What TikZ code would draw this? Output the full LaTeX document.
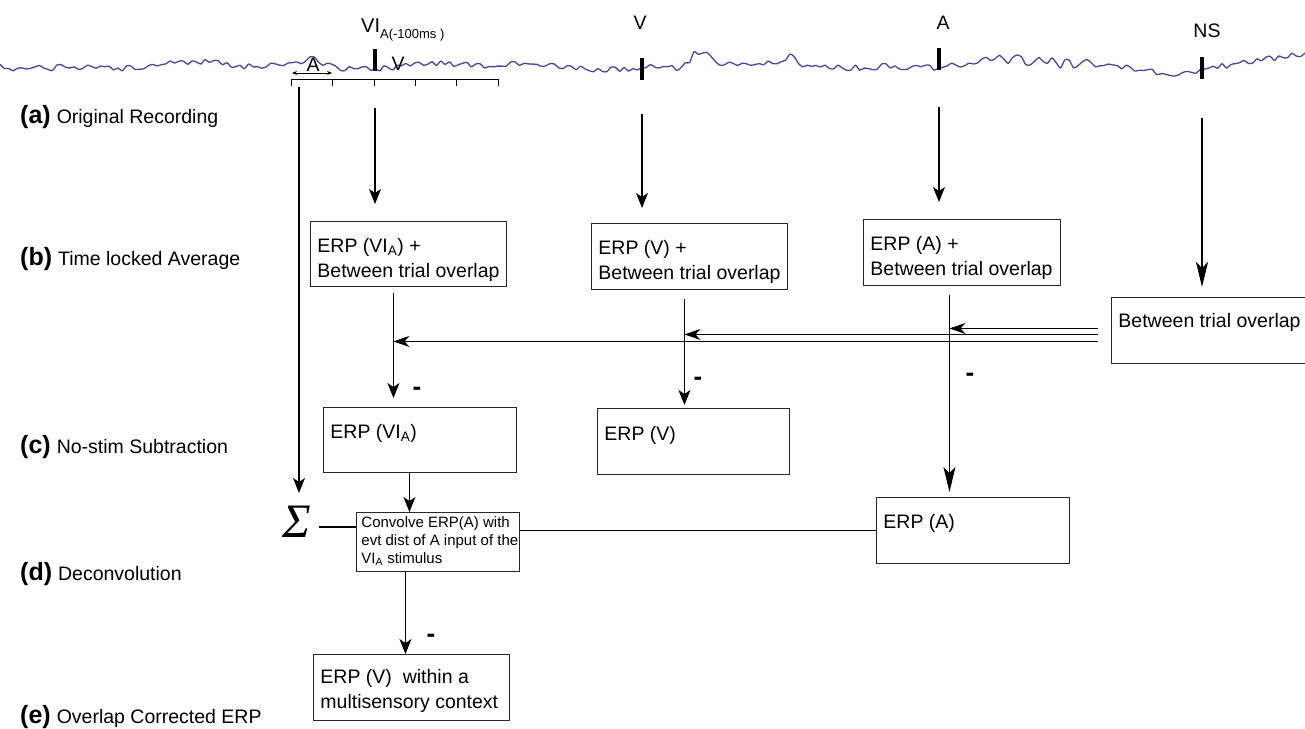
\documentclass[tikz,border=0pt]{standalone}
\usepackage{fontspec}
\setmainfont{Liberation Sans}
\newfontfamily\sigmafont{Liberation Serif}
\usetikzlibrary{arrows.meta}
\definecolor{eegcol}{RGB}{72,72,160}
\definecolor{boxcol}{RGB}{40,40,40}
% box text: width, height, first-baseline depth, left pad, content
\newcommand\bxt[5]{\parbox[c][#2][t]{#1}{\leftskip=#4\relax\rule{0pt}{#3}#5}}
\begin{document}
\begin{tikzpicture}[x=1pt,y=-1pt,
  box/.style={draw=boxcol, line width=0.9pt, inner sep=0pt, anchor=north west,
    font=\fontsize{19.5}{25}\selectfont},
  smallbox/.style={box, font=\fontsize{15}{18}\selectfont},
  conn/.style={line width=1.2pt, draw=black},
  arr/.style={conn, -{Stealth[length=15pt,width=12pt,inset=4pt]}},
  longarr/.style={conn, -{Stealth[length=25pt,width=12pt,inset=6pt]}},
  harr/.style={conn, -{Stealth[length=16pt,width=11pt,inset=5pt]}},
  rowlbl/.style={anchor=base west, inner sep=0pt, font=\fontsize{19.5}{23}\selectfont},
  toplbl/.style={anchor=base, inner sep=0pt, font=\fontsize{19.5}{23}\selectfont},
  tickmark/.style={fill=black, inner sep=0pt, minimum width=3.6pt, minimum height=22pt},
  minus/.style={inner sep=0pt, font=\bfseries\fontsize{26}{28}\selectfont},
  eeg/.style={draw=eegcol, line width=1.3pt, line join=round},
  ruler/.style={line width=1pt, draw=black}]
\fill[white] (0,0) rectangle (1305,728);
\useasboundingbox (0,0) rectangle (1305,728);

% EEG trace
\pgfmathsetseed{4711}
\draw[eeg] plot[smooth, tension=0.45, domain=0:1305, samples=300, variable=\t]
  (\t, {66 + 2.5*sin(\t*1.3) + 1.5*sin(\t*3.1+40)
        - 7*max(0,1-abs(\t-312)/30)
        - 18*max(0,1-abs(\t-700)/18)
        - 10*max(0,1-abs(\t-792)/10)
        - 4*max(0,1-abs(\t-1000)/120)
        + 5*max(0,1-abs(\t-1165)/55)
        - 12*max(0,(\t-1235)/70)
        + rand*(3.0 + 4*max(0,1-abs(\t-1050)/80) + 3*max(0,1-abs(\t-690)/40))});

% stimulus ticks and labels
\node[tickmark] (tVA) at (375,60) {};
\node[tickmark] (tV)  at (642,69) {};
\node[tickmark] (tA)  at (939,59) {};
\node[tickmark] (tNS) at (1202,68) {};
\node[anchor=base west, inner sep=0pt, font=\fontsize{20}{23}\selectfont] (lVA) at (361,32)
  {VI\raisebox{-6pt}{\fontsize{13}{14}\selectfont A(-100ms )}};
\node[toplbl] (lV)  at (640,29) {V};
\node[toplbl] (lA)  at (943,29) {A};
\node[toplbl] (lNS) at (1207,37) {NS};

% ruler under the first event
\draw[ruler] (291,86) -- (291,79) -- (498,79) -- (498,86);
\foreach \xx in {332,374,415,456} \draw[ruler] (\xx,79) -- (\xx,86);
\draw[line width=0.8pt, {Stealth[length=5pt,width=4pt]}-{Stealth[length=5pt,width=4pt]}] (292,73) -- (332,73);
\node[toplbl] (lAsmall) at (313,71) {A};
\node[toplbl] (lVsmall) at (398,70) {V};

% left-side row labels
\node[rowlbl] (ra) at (20,123) {{\bfseries\fontsize{25}{26}\selectfont (a)}\hspace{6pt}Original Recording};
\node[rowlbl] (rb) at (20,265) {{\bfseries\fontsize{25}{26}\selectfont (b)}\hspace{6pt}Time locked Average};
\node[rowlbl] (rc) at (20,453) {{\bfseries\fontsize{25}{26}\selectfont (c)}\hspace{6pt}No-stim Subtraction};
\node[rowlbl] (rd) at (20,580) {{\bfseries\fontsize{25}{26}\selectfont (d)}\hspace{6pt}Deconvolution};
\node[rowlbl] (re) at (20,723) {{\bfseries\fontsize{25}{26}\selectfont (e)}\hspace{6pt}Overlap Corrected ERP};

% boxes
\node[box] (b1) at (310,221) {\bxt{196pt}{65pt}{31pt}{7pt}{\mbox{ERP (VI\textsubscript{A}) +}\\\mbox{Between trial overlap}}};
\node[box] (b2) at (591,223) {\bxt{196pt}{66pt}{31pt}{7pt}{\mbox{ERP (V) +}\\\mbox{Between trial overlap}}};
\node[box] (b3) at (863,219) {\bxt{197pt}{66pt}{31pt}{7pt}{\mbox{ERP (A) +}\\\mbox{Between trial overlap}}};
\node[box] (b4) at (1111,297) {\bxt{205pt}{66pt}{30pt}{7pt}{\mbox{Between trial overlap}}};
\node[box] (c1) at (323,407) {\bxt{193pt}{65pt}{31pt}{7pt}{\mbox{ERP (VI\textsubscript{A})}}};
\node[box] (c2) at (597,408) {\bxt{192pt}{66pt}{32pt}{7pt}{\mbox{ERP (V)}}};
\node[box] (d2) at (876,497) {\bxt{193pt}{66pt}{31pt}{7pt}{\mbox{ERP (A)}}};
\node[smallbox] (d1) at (356,512) {\bxt{163pt}{59pt}{15pt}{5pt}{\mbox{Convolve ERP(A) with}\\\mbox{evt dist of A input of the}\\\mbox{VI\textsubscript{A} stimulus}}};
\node[box] (e1) at (313,654) {\bxt{196pt}{66pt}{29pt}{7pt}{\mbox{ERP (V)\ \ within a}\\\mbox{multisensory context}}};

% sigma
\node[inner sep=0pt, font=\sigmafont\itshape\fontsize{48}{50}\selectfont] (sig) at (297,522) {Σ};

% arrows from the recording
\draw[arr, shorten <=37pt, shorten >=17pt] (tVA) -- (tVA |- b1.north);
\draw[arr, shorten <=34pt, shorten >=15pt] (tV) -- (tV |- b2.north);
\draw[arr, shorten <=37pt, shorten >=17pt] (tA) -- (tA |- b3.north);
\draw[longarr, shorten <=39pt, shorten >=10pt] (tNS) -- (tNS |- b4.north);
\coordinate (lstart) at (299,87);
\coordinate (lend) at (299,493);
\draw[arr] (lstart) -- (lend);

% vertical subtraction lines
\coordinate (v1) at ([xshift=-15pt]b1.south);
\coordinate (v2) at ([xshift=-5pt]b2.south);
\coordinate (v3) at ([xshift=-12.5pt]b3.south);
\draw[arr, shorten <=6pt, shorten >=9pt] (v1) -- (v1 |- c1.north);
\draw[arr, shorten <=9pt, shorten >=3pt] (v2) -- (v2 |- c2.north);
\draw[longarr, shorten <=9pt, shorten >=5pt] (v3) -- (v3 |- d2.north);

% triple line from the no-stim box
\coordinate (h1) at ([yshift=2pt]b4.west);
\coordinate (h2) at ([yshift=-4pt]b4.west);
\coordinate (h3) at ([yshift=-11pt]b4.west);
\draw[harr, shorten <=13pt] (h1) -- (h1 -| v3);
\draw[harr, shorten <=13pt] (h2) -- (h2 -| v2);
\draw[harr, shorten <=13pt] (h3) -- (h3 -| v1);

% minus signs
\node[minus] (m1) at (417,391) {-};
\node[minus] (m2) at (698,381) {-};
\node[minus] (m3) at (970,377) {-};
\node[minus] (m4) at (431,638) {-};

% deconvolution
\coordinate (v4) at ([xshift=-10.5pt]c1.south);
\draw[arr] (v4) -- (v4 |- d1.north);
\coordinate (s1) at ([yshift=-5pt]sig.east);
\draw[conn, shorten <=8pt] (s1) -- (s1 -| d1.west);
\draw[conn] (d2.west) -- (d2.west -| d1.east);
\coordinate (v5) at ([xshift=-32.5pt]d1.south);
\draw[arr] (v5) -- (v5 |- e1.north);
\end{tikzpicture}
\end{document}
